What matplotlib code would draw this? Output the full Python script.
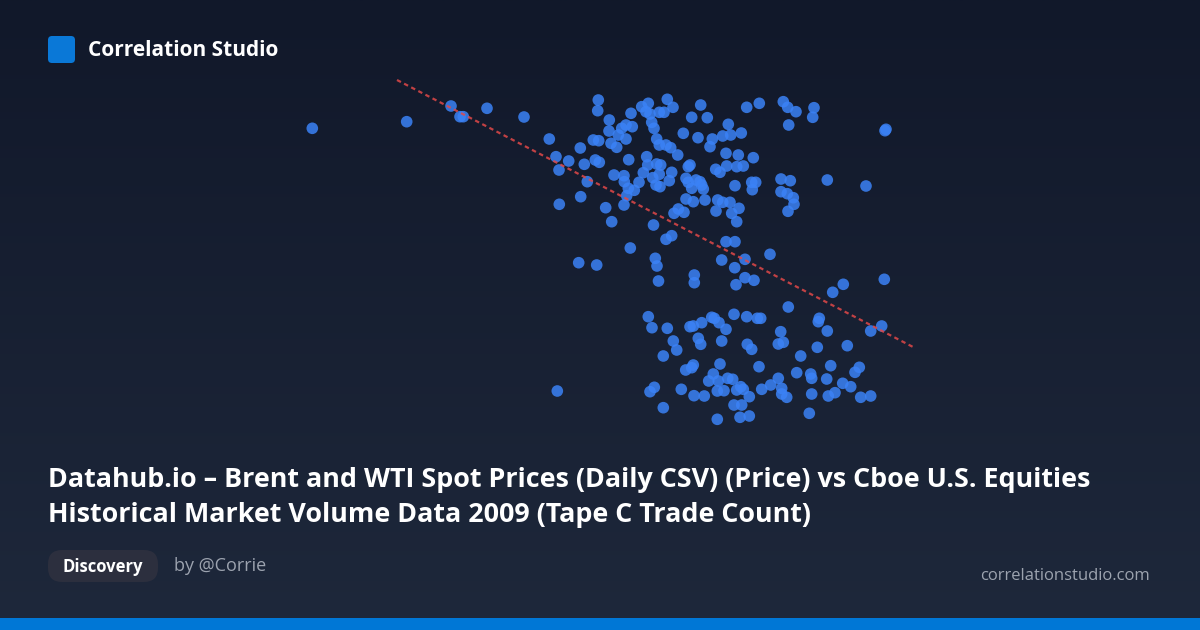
import matplotlib
matplotlib.use("Agg")
import matplotlib.pyplot as plt
import numpy as np
from matplotlib.patches import FancyBboxPatch, Rectangle

# ---- data: Brent/WTI price (x) vs Tape C trade count in thousands (y) ----
price = [
    24.23, 33.67, 38.10, 39.00, 39.33, 41.70, 45.40, 47.93, 52.83, 52.77,
    53.93, 56.10, 57.17, 57.83, 57.60, 58.00, 58.93, 59.40, 59.73, 60.30,
    63.07, 62.17, 63.73, 65.83, 58.17, 58.40, 55.60, 56.23, 55.17, 53.90,
    54.83, 55.60, 52.33, 52.87, 54.10, 54.67, 51.03, 58.67, 58.93, 59.60,
    60.07, 61.33, 62.80, 64.23, 65.27, 66.07, 64.00, 48.60, 49.87, 48.90,
    51.43, 52.53, 52.93, 55.87, 57.67, 57.77, 58.67, 59.07, 60.77, 62.00,
    61.83, 65.60, 66.83, 64.57, 65.00, 65.67, 66.67, 54.40, 55.40, 55.43,
    51.73, 57.33, 58.27, 58.93, 60.17, 56.90, 55.83, 56.43, 58.60, 59.00,
    59.93, 61.60, 61.83, 62.60, 63.00, 63.17, 62.17, 63.33, 66.50, 51.07,
    55.67, 48.93, 53.57, 55.40, 61.60, 62.33, 63.50, 64.77, 65.27, 66.00,
    64.60, 60.40, 60.83, 61.40, 66.17, 54.17, 58.35, 66.67,
    67.67, 68.93, 71.33, 71.77, 72.60, 74.40, 74.27, 71.87, 81.60, 81.50,
    67.13, 68.33, 67.33, 68.17, 68.57, 68.23, 71.10, 72.03, 75.73, 79.60,
    71.10, 71.73, 72.33, 72.40, 71.80, 66.90,
    60.17, 59.60, 56.03, 50.87, 52.67, 58.53, 58.70, 58.85, 62.43, 62.43,
    65.17, 65.60, 66.50, 66.47, 66.60,
    70.00, 67.50, 67.50, 68.40, 77.33, 76.27, 81.43, 71.83,
    57.83, 58.20, 59.73, 60.33, 60.67, 59.33, 62.00, 62.33, 63.17, 64.17,
    64.43, 64.90, 65.60, 66.40, 62.83, 63.07, 65.17, 65.00, 62.33, 62.17,
    61.57, 64.33, 63.87, 64.83, 65.77, 66.27, 66.67, 64.73, 65.40, 58.43,
    58.00, 61.13, 62.40, 63.43, 48.73, 59.33, 66.40, 64.73, 67.00,
    67.67, 68.73, 69.07, 74.93, 74.83, 75.73, 81.17, 80.07, 71.07, 67.73,
    68.17, 70.83, 71.33, 74.73, 77.73, 73.07, 68.90, 72.67, 74.07, 74.17,
    76.07, 78.93, 78.50, 75.67, 77.27, 78.07, 70.83, 70.07, 69.17, 71.17,
    71.17, 71.67, 74.17, 76.50, 75.83, 79.07, 80.07, 73.93, 67.07, 67.33,
    67.93, 67.17, 67.93,
]
trade_count = [
    3917, 3983, 4140, 4033, 4033, 4117, 4030, 3810, 4200, 4093,
    4000, 4067, 4133, 4167, 4083, 4060, 4077, 4077, 4207, 4127,
    4150, 4027, 4023, 3957, 3977, 3917, 3950, 3933, 3917, 3890,
    3850, 3810, 3800, 3793, 3767, 3727, 3720, 3810, 3750, 3750,
    3723, 3867, 3823, 3810, 3840, 3850, 3733, 3633, 3590, 3500,
    3557, 3600, 3577, 3603, 3633, 3550, 3560, 3550, 3650, 3550,
    3533, 3667, 3650, 3507, 3477, 3540, 3533, 3450, 3443, 3383,
    3383, 3473, 3423, 3457, 3477, 3377, 3317, 3297, 3350, 3333,
    3393, 3417, 3377, 3400, 3383, 3350, 3317, 3310, 3343, 3233,
    3243, 3157, 3123, 3150, 3210, 3183, 3200, 3200, 3177, 3177,
    3090, 3067, 3110, 3077, 3067, 2983, 2950, 2983,
    4127, 4167, 4183, 4127, 4083, 4123, 4027, 3950, 3907, 3893,
    3870, 3623, 3540, 3377, 3377, 3303, 3410, 3393, 3400, 3340,
    3283, 3263, 3223, 3157, 3087, 3117,
    2843, 2807, 2720, 2573, 2550, 2617, 2540, 2390, 2450, 2373,
    2600, 2783, 2783, 2523, 2353,
    2657, 2607, 2423, 2397, 2357, 2277, 2407, 2130,
    2033, 1923, 1917, 1790, 1700, 1640, 1933, 1940, 1973, 2027,
    2017, 1973, 1907, 2057, 1817, 1757, 1790, 1560, 1550, 1523,
    1500, 1460, 1390, 1390, 1417, 1407, 1300, 1290, 1293, 1327,
    1283, 1307, 1243, 1240, 1290, 1123, 1150, 1007, 1027,
    2033, 2017, 2017, 2017, 1983, 1890, 1940, 1890, 1883, 1757,
    1707, 1760, 1777, 1727, 1743, 1640, 1533, 1473, 1460, 1417,
    1543, 1527, 1477, 1410, 1367, 1333, 1417, 1350, 1307, 1317,
    1260, 1227, 1260, 1273, 1240, 1227, 1240, 1067, 1333, 1307,
    1233, 1150, 1040,
]
trend_x = [32.7, 84.5]
trend_y = [4400, 1720]

title_lines = [
    "Datahub.io \u2013 Brent and WTI Spot Prices (Daily CSV) (Price) vs Cboe U.S. Equities",
    "Historical Market Volume Data 2009 (Tape C Trade Count)",
]
brand = "Correlation Studio"
tag = "Discovery"
author = "by @Corrie"
site = "correlationstudio.com"

W, H = 1200, 630
fig = plt.figure(figsize=(W / 100, H / 100), dpi=100)

# background gradient
bg = fig.add_axes([0, 0, 1, 1])
bg.set_xlim(0, W)
bg.set_ylim(H, 0)
bg.axis("off")
top = np.array([0x11, 0x18, 0x2a]) / 255
bot = np.array([0x1e, 0x28, 0x3b]) / 255
t = np.linspace(0, 1, 256)[:, None]
grad = top[None, :] * (1 - t) + bot[None, :] * t
grad = np.repeat(grad[:, None, :], 2, axis=1)
bg.imshow(grad, extent=[0, W, H, 0], aspect="auto", zorder=0)

# header
bg.add_patch(FancyBboxPatch((48, 36), 27, 27, boxstyle="round,pad=0,rounding_size=4",
                            facecolor="#0a78d7", edgecolor="none", zorder=2))
bg.text(88, 50, brand, color="white", fontsize=15, fontweight="bold",
        family="Open Sans", va="center", ha="left", zorder=3)

# title
bg.text(48, 480, title_lines[0], color="white", fontsize=19.4, fontweight="bold",
        family="Open Sans", va="center", ha="left", zorder=3)
bg.text(48, 515, title_lines[1], color="white", fontsize=19.4, fontweight="bold",
        family="Open Sans", va="center", ha="left", zorder=3)

# pill + author + site
bg.add_patch(FancyBboxPatch((48, 550), 110, 32, boxstyle="round,pad=0,rounding_size=14",
                            facecolor="#2c2f3e", edgecolor="none", zorder=2))
bg.text(103, 567, tag, color="white", fontsize=12, fontweight="bold",
        family="Open Sans", va="center", ha="center", zorder=3)
bg.text(174, 566, author, color="#9ca3af", fontsize=13, family="Open Sans",
        va="center", ha="left", zorder=3)
bg.text(1150, 576, site, color="#9ca3af", fontsize=12, family="Open Sans",
        va="center", ha="right", zorder=3)

# bottom bar
bg.add_patch(Rectangle((0, 618), W, 12, facecolor="#0077d6", edgecolor="none", zorder=2))

# scatter axes: px x 290..930, px y 70..440
ax = fig.add_axes([290 / W, 1 - 440 / H, 640 / W, 370 / H])
ax.set_xlim(22, 86)
ax.set_ylim(800, 4500)
ax.axis("off")
ax.patch.set_alpha(0)
ax.scatter(price, trade_count, s=70, color="#3b82f6", alpha=0.85,
           edgecolors="none", zorder=2)
ax.plot(trend_x, trend_y, color="#e04848", alpha=0.85, lw=1.6,
        linestyle=(0, (2, 1.6)), zorder=3, clip_on=False)

fig.savefig("out.png", dpi=100, facecolor=fig.get_facecolor())
